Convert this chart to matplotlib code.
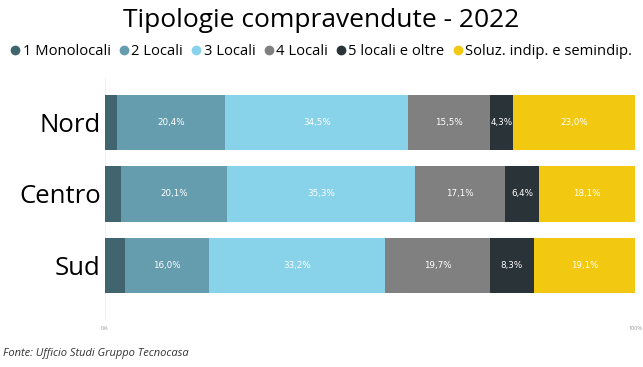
import numpy as np
import matplotlib.pyplot as plt
from matplotlib.lines import Line2D

plt.rcParams['font.family'] = ['Open Sans', 'DejaVu Sans']

regions = ['Nord', 'Centro', 'Sud']
series = ['1 Monolocali', '2 Locali', '3 Locali', '4 Locali',
          '5 locali e oltre', 'Soluz. indip. e semindip.']
mono = [2.3, 3.0, 3.7]
due = [20.4, 20.1, 16.0]
tre = [34.5, 35.3, 33.2]
quattro = [15.5, 17.1, 19.7]
cinque = [4.3, 6.4, 8.3]
soluz = [23.0, 18.1, 19.1]
colors = ['#41656f', '#659dae', '#89d3ea', '#808080', '#2a3438', '#f2c811']

data = [mono, due, tre, quattro, cinque, soluz]

fig = plt.figure(figsize=(6.43, 3.67), dpi=100)
# axes spans y pixels 78..320
ax = fig.add_axes([105/643, 1 - 320/367, 530/643, 242/367])

y = np.arange(len(regions))
left = np.zeros(len(regions))
for i, (vals, c) in enumerate(zip(data, colors)):
    vals = np.array(vals)
    bars = ax.barh(y, vals, left=left, color=c, height=0.77)
    if i > 0:
        for b, v in zip(bars, vals):
            ax.text(b.get_x() + b.get_width()/2, b.get_y() + b.get_height()/2,
                    f'{v:.1f}%'.replace('.', ','), ha='center', va='center',
                    color='white', fontsize=6.3, family='DejaVu Sans',
                    fontweight='medium')
    left += vals

ax.set_xlim(0, 100)
ax.set_ylim(2.76, -0.62)
ax.set_yticks(y)
ax.set_yticklabels(regions, fontsize=18.5)
ax.set_xticks([0, 100])
ax.set_xticklabels(['0%', '100%'], fontsize=4, color='#999999')
ax.tick_params(length=0, pad=4)
ax.tick_params(axis='y', pad=3)
for s in ax.spines.values():
    s.set_visible(False)
ax.axvline(0, color='#eeeeee', lw=0.8, zorder=0)
ax.axvline(100, color='#eeeeee', lw=0.8, zorder=0)

fig.text(0.5, 0.945, 'Tipologie compravendute - 2022', ha='center', va='center', fontsize=19)

handles = [Line2D([], [], marker='o', ls='', color=c, markersize=6) for c in colors]
fig.legend(handles, series, loc='center', bbox_to_anchor=(0.5, 0.86), ncol=6,
           frameon=False, fontsize=10.6, handlelength=0.6, handletextpad=0.2,
           columnspacing=0.6, borderaxespad=0)

fig.text(0.005, 0.03, 'Fonte: Ufficio Studi Gruppo Tecnocasa', fontsize=8,
         style='italic', color='#333333')

fig.savefig('out.png', dpi=100)
